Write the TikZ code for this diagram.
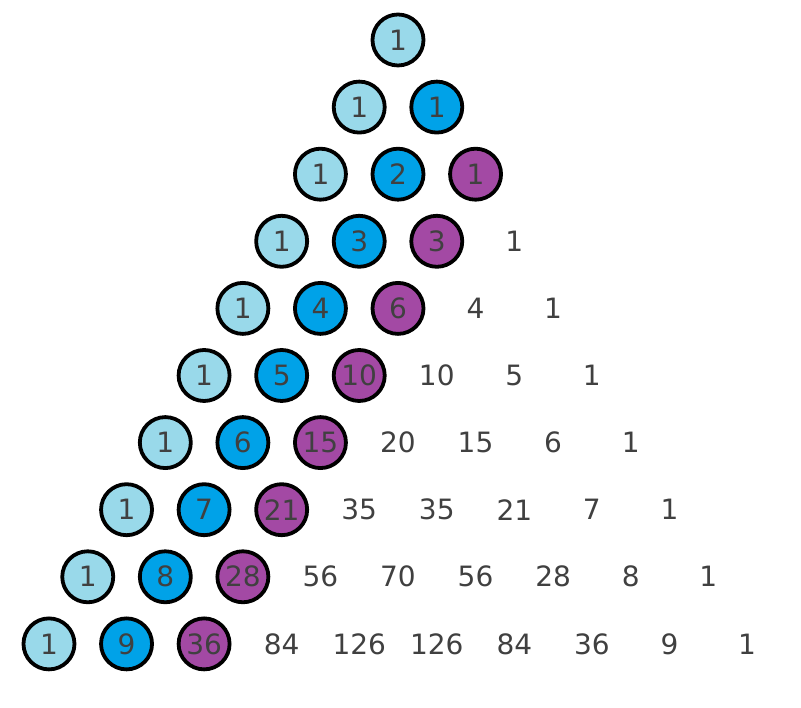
\documentclass[tikz,border=0pt]{standalone}
\usepackage{fontspec}
\setmainfont{DejaVu Sans}
\definecolor{lb}{HTML}{99D9EA}
\definecolor{bl}{HTML}{00A2E8}
\definecolor{pu}{HTML}{A349A4}
\definecolor{tx}{HTML}{404040}
\begin{document}
\begin{tikzpicture}[x=1pt,y=1pt,
  num/.style={text=tx,font=\fontsize{28}{28}\selectfont,inner sep=0pt},
  ball/.style={num,circle,draw=black,line width=3.8pt,minimum size=51pt},
  c0/.style={ball,fill=lb},
  c1/.style={ball,fill=bl},
  c2/.style={ball,fill=pu},
  c3/.style={num},c4/.style={num},c5/.style={num},c6/.style={num},c7/.style={num},c8/.style={num},c9/.style={num}]
\useasboundingbox (0,0) rectangle (801,708);
\foreach \r/\vals in {0/{1},1/{1,1},2/{1,2,1},3/{1,3,3,1},4/{1,4,6,4,1},5/{1,5,10,10,5,1},6/{1,6,15,20,15,6,1},7/{1,7,21,35,35,21,7,1},8/{1,8,28,56,70,56,28,8,1},9/{1,9,36,84,126,126,84,36,9,1}}{
  \foreach \v [count=\k from 0] in \vals {
    \node[c\k] (n\r-\k) at ({398-38.78*\r+77.56*\k},{668-67.1*\r}) {\v};
  }
}
\end{tikzpicture}
\end{document}
